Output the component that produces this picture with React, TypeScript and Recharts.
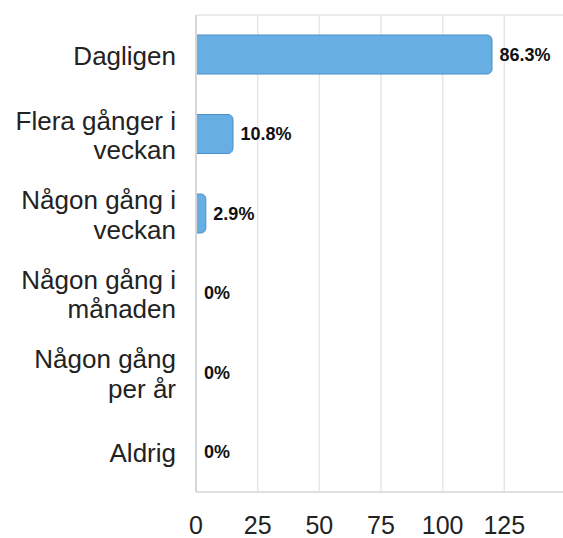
import React from 'react'
import { BarChart, Bar, XAxis, YAxis, CartesianGrid, LabelList, Rectangle } from 'recharts'

const categories = [
    'Dagligen',
    'Flera gånger i\nveckan',
    'Någon gång i\nveckan',
    'Någon gång i\nmånaden',
    'Någon gång\nper år',
    'Aldrig',
]
const counts = [120, 15, 4, 0, 0, 0]
const percentLabels = ['86.3%', '10.8%', '2.9%', '0%', '0%', '0%']
const xTicks = [0, 25, 50, 75, 100, 125]

const chartData = categories.map((name, i) => ({
    name,
    count: counts[i],
    pct: percentLabels[i],
}))

const FONT = "'Liberation Sans', Arial, sans-serif"

// multi-line category label, right aligned against the axis
const CategoryTick = (props: any) => {
    const { x, y, payload } = props
    const lines = String(payload.value).split('\n')
    const lineHeight = 29.5
    return (
        <g>
            {lines.map((line, i) => (
                <text
                    key={i}
                    x={x}
                    y={y + (i - (lines.length - 1) / 2) * lineHeight + 10}
                    textAnchor="end"
                    fontSize={26}
                    fill="#222"
                    fontFamily={FONT}
                >
                    {line}
                </text>
            ))}
        </g>
    )
}

// zero bars still need an entry so their "0%" label shows, but draw nothing
const BarShape = (props: any) => {
    if (!props.payload || props.payload.count === 0) return <g />
    return <Rectangle {...props} />
}

export default function App() {
    return (
        <div style={{ position: 'fixed', left: 0, top: 0, width: 563, height: 538, overflow: 'hidden', background: '#fff' }}>
            <BarChart
                width={566}
                height={538}
                data={chartData}
                layout="vertical"
                margin={{ top: 15, right: 0, left: 0, bottom: 0 }}
            >
                <CartesianGrid
                    stroke="#e6e6e6"
                    strokeWidth={1.5}
                    horizontalCoordinatesGenerator={(p: any) => [p.offset.top, p.offset.top + p.offset.height]}
                />
                <XAxis
                    type="number"
                    domain={[0, 150]}
                    ticks={xTicks}
                    height={46}
                    tickLine={false}
                    axisLine={{ stroke: '#dcdcdc', strokeWidth: 1.5 }}
                    tickSize={6}
                    tickMargin={18}
                    tick={{ fontSize: 25, fill: '#222', fontFamily: FONT }}
                />
                <YAxis
                    type="category"
                    dataKey="name"
                    width={196}
                    tickLine={false}
                    axisLine={{ stroke: '#d6d6d6', strokeWidth: 2 }}
                    tickSize={0}
                    tickMargin={20}
                    tick={<CategoryTick />}
                    interval={0}
                />
                <Bar
                    dataKey="count"
                    fill="#67aee3"
                    stroke="#4b90cb"
                    strokeWidth={1}
                    barSize={39}
                    radius={[0, 5, 5, 0]}
                    minPointSize={0.5}
                    shape={<BarShape />}
                    isAnimationActive={false}
                >
                    <LabelList
                        dataKey="pct"
                        position="right"
                        offset={7.5}
                        fill="#111"
                        fontSize={18}
                        fontWeight="bold"
                        fontFamily={FONT}
                    />
                </Bar>
            </BarChart>
        </div>
    )
}
